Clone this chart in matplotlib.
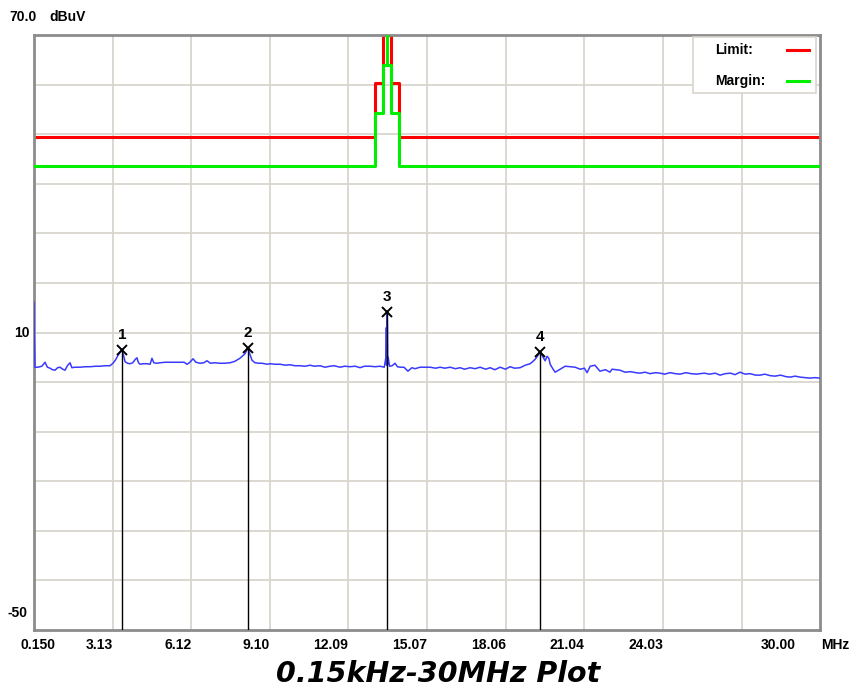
import matplotlib
matplotlib.use("Agg")
import matplotlib.pyplot as plt
from matplotlib.patches import Rectangle
from matplotlib.lines import Line2D

# measured trace (MHz, dBuV)
freq = [0.15, 0.16, 0.19, 0.30, 0.45, 0.57, 0.66, 0.76, 0.85, 0.95,
        1.05, 1.14, 1.24, 1.33, 1.42, 1.52, 1.59, 1.70, 1.90, 2.10,
        2.28, 2.50, 2.66, 2.85, 3.04, 3.15, 3.25, 3.34, 3.42, 3.49,
        3.55, 3.61, 3.70, 3.80, 3.90, 4.00, 4.06, 4.12, 4.18, 4.30,
        4.45, 4.56, 4.63, 4.70, 4.80, 4.94, 5.13, 5.30, 5.50, 5.70,
        5.85, 5.96, 6.05, 6.19, 6.30, 6.45, 6.60, 6.72, 6.85, 7.02,
        7.20, 7.40, 7.60, 7.78, 7.97, 8.10, 8.16, 8.22, 8.28, 8.35,
        8.43, 8.54, 8.70, 8.81, 9.00, 9.11, 9.30, 9.49, 9.70, 9.87,
        10.05, 10.25, 10.45, 10.63, 10.80, 11.01, 11.20, 11.39, 11.55, 11.77,
        11.95, 12.15, 12.35, 12.53, 12.70, 12.91, 13.10, 13.29, 13.45, 13.52,
        13.53, 13.54, 13.55, 13.56, 13.57, 13.58, 13.60, 13.65, 13.75, 13.86,
        13.95, 14.05, 14.20, 14.35, 14.50, 14.62, 14.81, 15.00, 15.19, 15.40,
        15.57, 15.75, 15.95, 16.15, 16.33, 16.50, 16.71, 16.90, 17.09, 17.30,
        17.47, 17.65, 17.85, 18.05, 18.23, 18.40, 18.61, 18.80, 18.99, 19.10,
        19.18, 19.30, 19.37, 19.48, 19.56, 19.63, 19.70, 19.75, 19.86, 19.94,
        20.13, 20.32, 20.50, 20.70, 20.89, 21.05, 21.15, 21.27, 21.45, 21.64,
        21.85, 22.02, 22.10, 22.25, 22.40, 22.59, 22.80, 23.00, 23.16, 23.35,
        23.54, 23.75, 23.92, 24.10, 24.30, 24.50, 24.68, 24.90, 25.10, 25.30,
        25.44, 25.60, 25.80, 26.02, 26.20, 26.40, 26.60, 26.77, 26.96, 27.15,
        27.34, 27.55, 27.72, 27.90, 28.10, 28.29, 28.50, 28.70, 28.86, 29.05,
        29.24, 29.45, 29.62, 29.80, 30.00]
level = [16.1, 9.5, 3.0, 3.0, 3.2, 4.0, 3.0, 2.8, 2.5, 2.4,
         2.9, 3.0, 2.6, 2.4, 3.3, 3.9, 2.9, 3.0, 3.0, 3.1,
         3.1, 3.2, 3.2, 3.3, 3.3, 3.8, 4.5, 5.4, 6.0, 6.5,
         5.4, 4.1, 3.8, 3.7, 3.9, 4.6, 4.9, 3.9, 3.6, 3.7,
         3.7, 3.6, 4.8, 3.9, 3.8, 3.9, 4.0, 4.0, 4.0, 4.0,
         4.0, 3.6, 3.9, 4.7, 4.0, 3.8, 3.9, 4.3, 3.8, 3.9,
         3.8, 3.8, 3.9, 4.2, 4.8, 5.4, 5.7, 6.3, 6.9, 5.6,
         4.4, 3.9, 3.8, 3.8, 3.6, 3.7, 3.6, 3.6, 3.4, 3.5,
         3.3, 3.3, 3.2, 3.4, 3.2, 3.3, 3.0, 3.2, 3.3, 3.0,
         3.2, 3.1, 3.2, 2.9, 3.2, 3.2, 3.1, 3.2, 3.0, 5.2,
         11.0, 3.4, 11.2, 14.1, 11.0, 3.6, 5.0, 3.2, 3.3, 3.8,
         3.1, 3.0, 3.0, 2.2, 2.9, 2.7, 3.0, 3.0, 3.0, 2.8,
         3.0, 2.8, 3.0, 2.7, 2.9, 2.6, 2.9, 2.7, 3.0, 2.6,
         2.9, 2.5, 3.0, 2.6, 3.1, 2.8, 2.9, 3.4, 3.7, 4.2,
         4.6, 5.5, 6.1, 5.0, 4.3, 5.2, 4.8, 3.6, 2.6, 2.0,
         2.6, 3.2, 3.1, 3.0, 2.6, 2.8, 1.9, 3.2, 3.4, 2.2,
         2.5, 2.0, 2.6, 2.5, 2.4, 2.0, 2.1, 1.9, 1.8, 2.0,
         1.7, 1.9, 1.8, 1.6, 1.9, 1.7, 1.6, 1.9, 1.7, 1.6,
         1.7, 1.8, 1.6, 1.8, 1.4, 1.7, 1.8, 1.5, 2.0, 1.6,
         1.7, 1.4, 1.4, 1.6, 1.3, 1.2, 1.4, 1.1, 1.0, 1.2,
         1.0, 0.9, 0.8, 0.9, 0.8]

# limit / margin masks (steps)
limit_freq = [0.15, 13.11, 13.41, 13.553, 13.567, 13.71, 14.01, 30.0]
limit_level = [49.5, 60.3, 70.0, 104.0, 70.0, 60.3, 49.5, 49.5]
margin_level = [43.5, 54.3, 64.0, 98.0, 64.0, 54.3, 43.5, 43.5]

# peak markers
mark_id = ["1", "2", "3", "4"]
mark_freq = [3.49, 8.28, 13.56, 19.37]
mark_level = [6.5, 6.9, 14.1, 6.1]

xtick_vals = [0.15 + k * 2.985 for k in range(11)]
xtick_text = ["0.150", "3.13", "6.12", "9.10", "12.09", "15.07", "18.06", "21.04", "24.03", "", ""]

lab_font = "Liberation Sans"
lab_kw = dict(fontsize=10, family=lab_font, fontweight="bold")

fig = plt.figure(figsize=(8.49, 6.91), dpi=100)
ax = fig.add_axes([0.040, 0.0883, 0.926, 0.861])
ax.set_xlim(0.15, 30.0)
ax.set_ylim(-50, 70)

# grid
for xv in xtick_vals[1:-1]:
    ax.axvline(xv, color="#d9d5ce", lw=1.3, zorder=0)
for yv in range(-40, 70, 10):
    ax.axhline(yv, color="#d9d5ce", lw=1.3, zorder=0)

ax.plot(limit_freq, limit_level, drawstyle="steps-post", color="#ff0000", lw=2.2, zorder=2)
ax.plot(limit_freq, margin_level, drawstyle="steps-post", color="#00ee00", lw=2.2, zorder=3)
ax.plot(freq, level, color="#3a3aff", lw=1.1, zorder=4)

for mid, mf, ml in zip(mark_id, mark_freq, mark_level):
    ax.plot([mf, mf], [-50, ml], color="black", lw=1.0, zorder=5)
    ax.plot(mf, ml, marker="x", color="black", ms=7, mew=1.4, zorder=6)
    ax.text(mf, ml + 1.6, mid, ha="center", va="bottom", fontsize=11,
            family=lab_font, fontweight="bold")

ax.set_xticks([])
ax.set_yticks([])
for s in ax.spines.values():
    s.set_color("#8c8c8c")
    s.set_linewidth(2.0)

# axis labels, placed like the analyser software does
tr = ax.get_xaxis_transform()
for xv, lab in zip(xtick_vals, xtick_text):
    if not lab:
        continue
    if lab == "0.150":
        ax.text(xv + 0.15, -0.014, lab, transform=tr, ha="center", va="top", **lab_kw)
    else:
        ax.text(xv, -0.014, lab, transform=tr, ha="right", va="top", **lab_kw)
ax.text(28.4, -0.014, "30.00", transform=tr, ha="center", va="top", **lab_kw)
ax.text(1.019, -0.014, "MHz", transform=ax.transAxes, ha="center", va="top", **lab_kw)

ax.text(-0.014, 1.03, "70.0", transform=ax.transAxes, ha="center", va="center", **lab_kw)
ax.text(0.043, 1.03, "dBuV", transform=ax.transAxes, ha="center", va="center", **lab_kw)
ax.text(-0.016, 10, "10", transform=ax.get_yaxis_transform(), ha="center", va="center", **lab_kw)
ax.text(-0.021, -46.5, "-50", transform=ax.get_yaxis_transform(), ha="center", va="center", **lab_kw)

# legend box
ax.add_patch(Rectangle((0.838, 0.903), 0.157, 0.094, transform=ax.transAxes,
                       facecolor="white", edgecolor="#d9d5ce", lw=1.2, zorder=7))
ax.text(0.867, 0.975, "Limit:", transform=ax.transAxes, ha="left", va="center", zorder=8, **lab_kw)
ax.text(0.867, 0.922, "Margin:", transform=ax.transAxes, ha="left", va="center", zorder=8, **lab_kw)
ax.add_line(Line2D([0.958, 0.986], [0.975, 0.975], transform=ax.transAxes, color="#ff0000", lw=2.2, zorder=8))
ax.add_line(Line2D([0.958, 0.986], [0.922, 0.922], transform=ax.transAxes, color="#00ee00", lw=2.2, zorder=8))

fig.text(0.516, 0.025, "0.15kHz-30MHz Plot", ha="center", va="center", fontsize=20.5,
         fontweight="bold", style="italic", family="DejaVu Sans")

fig.savefig("out.png", dpi=100)
